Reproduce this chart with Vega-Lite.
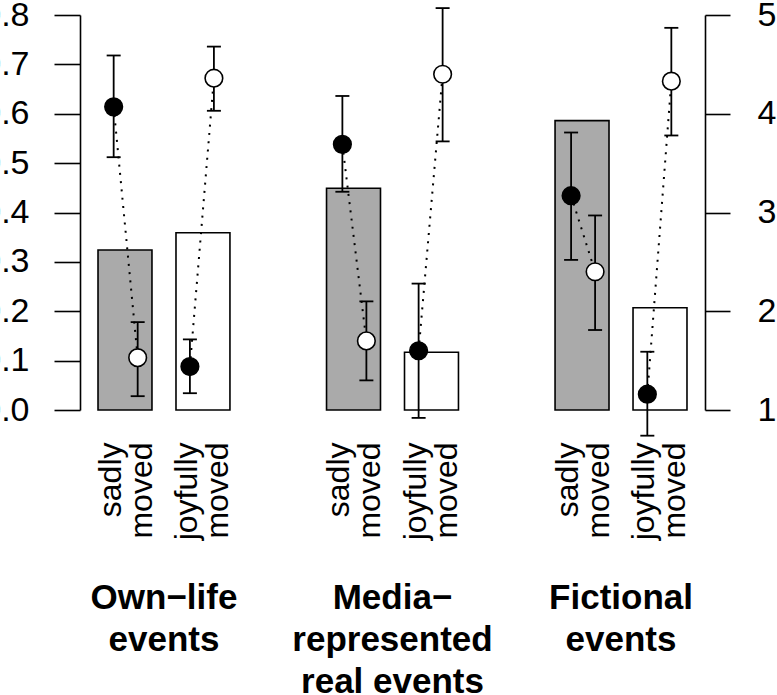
{
  "$schema": "https://vega.github.io/schema/vega-lite/v6.json",
  "width": 625,
  "height": 395,
  "autosize": "none",
  "padding": {"left": 80, "top": 15, "right": 72, "bottom": 285},
  "background": "white",
  "config": {"view": {"stroke": null}, "font": "Liberation Sans"},
  "datasets": {
    "bars": [
      {"event": "Own-life events", "type": "sadly moved", "value": 0.324},
      {"event": "Own-life events", "type": "joyfully moved", "value": 0.359},
      {"event": "Media-represented real events", "type": "sadly moved", "value": 0.449},
      {"event": "Media-represented real events", "type": "joyfully moved", "value": 0.117},
      {"event": "Fictional events", "type": "sadly moved", "value": 0.586},
      {"event": "Fictional events", "type": "joyfully moved", "value": 0.207}
    ],
    "points": [
      {"bar": "Own-life events|sadly moved", "series": "filled", "mean": 4.07, "lo": 3.56, "hi": 4.59},
      {"bar": "Own-life events|sadly moved", "series": "open", "mean": 1.53, "lo": 1.14, "hi": 1.89},
      {"bar": "Own-life events|joyfully moved", "series": "filled", "mean": 1.44, "lo": 1.17, "hi": 1.715},
      {"bar": "Own-life events|joyfully moved", "series": "open", "mean": 4.36, "lo": 4.03, "hi": 4.68},
      {"bar": "Media-represented real events|sadly moved", "series": "filled", "mean": 3.69, "lo": 3.21, "hi": 4.18},
      {"bar": "Media-represented real events|sadly moved", "series": "open", "mean": 1.70, "lo": 1.30, "hi": 2.10},
      {"bar": "Media-represented real events|joyfully moved", "series": "filled", "mean": 1.60, "lo": 0.92, "hi": 2.28},
      {"bar": "Media-represented real events|joyfully moved", "series": "open", "mean": 4.40, "lo": 3.72, "hi": 5.07},
      {"bar": "Fictional events|sadly moved", "series": "filled", "mean": 3.17, "lo": 2.52, "hi": 3.81},
      {"bar": "Fictional events|sadly moved", "series": "open", "mean": 2.40, "lo": 1.81, "hi": 2.97},
      {"bar": "Fictional events|joyfully moved", "series": "filled", "mean": 1.16, "lo": 0.74, "hi": 1.59},
      {"bar": "Fictional events|joyfully moved", "series": "open", "mean": 4.33, "lo": 3.78, "hi": 4.87}
    ]
  },
  "layer": [
    {
      "data": {"name": "bars"},
      "mark": {"type": "bar", "stroke": "black", "strokeWidth": 1.6},
      "encoding": {
        "x": {
          "field": "event", "type": "nominal",
          "scale": {"domain": ["Own-life events", "Media-represented real events", "Fictional events"], "paddingInner": 0.265, "paddingOuter": 0},
          "axis": {
            "orient": "bottom", "title": null, "domain": false, "ticks": false, "tickSize": 0,
            "labelAngle": 0, "labelAlign": "center", "labelBaseline": "top",
            "labelFont": "Liberation Sans", "labelFontSize": 35, "labelFontWeight": "bold",
            "labelLineHeight": 42, "labelPadding": 170, "labelColor": "black", "labelLimit": 0,
            "labelOverlap": false, "labelBound": false, "labelFlush": false,
            "labelExpr": "datum.value == 'Own-life events' ? ['Own−life','events'] : datum.value == 'Fictional events' ? ['Fictional','events'] : ['Media−','represented','real events']"
          }
        },
        "xOffset": {
          "field": "type", "type": "nominal",
          "scale": {"domain": ["sadly moved", "joyfully moved"], "paddingInner": 0.308, "paddingOuter": 0.231}
        },
        "y": {
          "field": "value", "type": "quantitative",
          "scale": {"domain": [0, 0.8], "nice": false, "zero": true},
          "axis": {
            "orient": "left", "title": null, "grid": false,
            "values": [0, 0.1, 0.2, 0.3, 0.4, 0.5, 0.6, 0.7, 0.8], "format": ".1f",
            "domainColor": "black", "domainWidth": 1.6, "tickColor": "black", "tickWidth": 1.6, "tickSize": 26,
            "labelFont": "Liberation Sans", "labelFontSize": 34, "labelColor": "black", "labelPadding": 25,
            "labelFlush": false, "labelOverlap": false, "labelBound": false, "labelLimit": 0
          }
        },
        "fill": {
          "field": "type", "type": "nominal",
          "scale": {"domain": ["sadly moved", "joyfully moved"], "range": ["#aaaaaa", "#ffffff"]},
          "legend": null
        }
      }
    },
    {
      "data": {"name": "points"},
      "encoding": {
        "x": {
          "field": "bar", "type": "nominal",
          "scale": {
            "domain": ["Own-life events|sadly moved", "Own-life events|joyfully moved", "gap1",
                       "Media-represented real events|sadly moved", "Media-represented real events|joyfully moved", "gap2",
                       "Fictional events|sadly moved", "Fictional events|joyfully moved"],
            "paddingInner": 0, "paddingOuter": 0.099
          },
          "axis": {
            "orient": "bottom", "title": null, "domain": false, "ticks": false, "tickSize": 0,
            "labelAngle": 270, "labelAlign": "right", "labelBaseline": "middle",
            "labelFont": "Liberation Sans", "labelFontSize": 32, "labelLineHeight": 31,
            "labelPadding": 32, "labelOffset": -15, "labelColor": "black", "labelLimit": 0,
            "labelOverlap": false, "labelBound": false, "labelFlush": false,
            "labelExpr": "indexof(datum.value, 'sadly') >= 0 ? ['sadly','moved'] : indexof(datum.value, 'joyfully') >= 0 ? ['joyfully','moved'] : ''"
          }
        },
        "xOffset": {
          "field": "series", "type": "nominal",
          "scale": {"domain": ["filled", "open"], "paddingInner": 0, "paddingOuter": 0.588}
        }
      },
      "layer": [
        {
          "mark": {"type": "line", "color": "black", "strokeWidth": 2, "strokeDash": [2, 6.3]},
          "encoding": {
            "y": {
              "field": "mean", "type": "quantitative",
              "scale": {"domain": [1, 5], "nice": false, "zero": false},
              "axis": {
                "orient": "right", "title": null, "grid": false,
                "values": [1, 2, 3, 4, 5], "format": "d",
                "domainColor": "black", "domainWidth": 1.6, "tickColor": "black", "tickWidth": 1.6, "tickSize": 25,
                "labelFont": "Liberation Sans", "labelFontSize": 34, "labelColor": "black", "labelPadding": 27,
                "labelAlign": "left", "labelFlush": false, "labelOverlap": false, "labelBound": false
              }
            },
            "detail": {"field": "bar", "type": "nominal"}
          }
        },
        {
          "mark": {"type": "rule", "color": "black", "strokeWidth": 1.8},
          "encoding": {
            "y": {"field": "lo", "type": "quantitative", "scale": {"domain": [1, 5], "nice": false, "zero": false}},
            "y2": {"field": "hi"}
          }
        },
        {
          "mark": {"type": "point", "shape": "M-1,0L1,0", "size": 196, "filled": false, "color": "black", "strokeWidth": 1.8, "opacity": 1},
          "encoding": {
            "y": {"field": "lo", "type": "quantitative", "scale": {"domain": [1, 5], "nice": false, "zero": false}}
          }
        },
        {
          "mark": {"type": "point", "shape": "M-1,0L1,0", "size": 196, "filled": false, "color": "black", "strokeWidth": 1.8, "opacity": 1},
          "encoding": {
            "y": {"field": "hi", "type": "quantitative", "scale": {"domain": [1, 5], "nice": false, "zero": false}}
          }
        },
        {
          "mark": {"type": "point", "shape": "circle", "size": 310, "filled": true, "stroke": "black", "strokeWidth": 1.6, "opacity": 1},
          "encoding": {
            "y": {"field": "mean", "type": "quantitative", "scale": {"domain": [1, 5], "nice": false, "zero": false}},
            "fill": {
              "field": "series", "type": "nominal",
              "scale": {"domain": ["filled", "open"], "range": ["#000000", "#ffffff"]},
              "legend": null
            }
          }
        }
      ]
    }
  ],
  "resolve": {
    "scale": {"x": "independent", "xOffset": "independent", "y": "independent", "fill": "independent"},
    "axis": {"x": "independent", "y": "independent"}
  }
}
